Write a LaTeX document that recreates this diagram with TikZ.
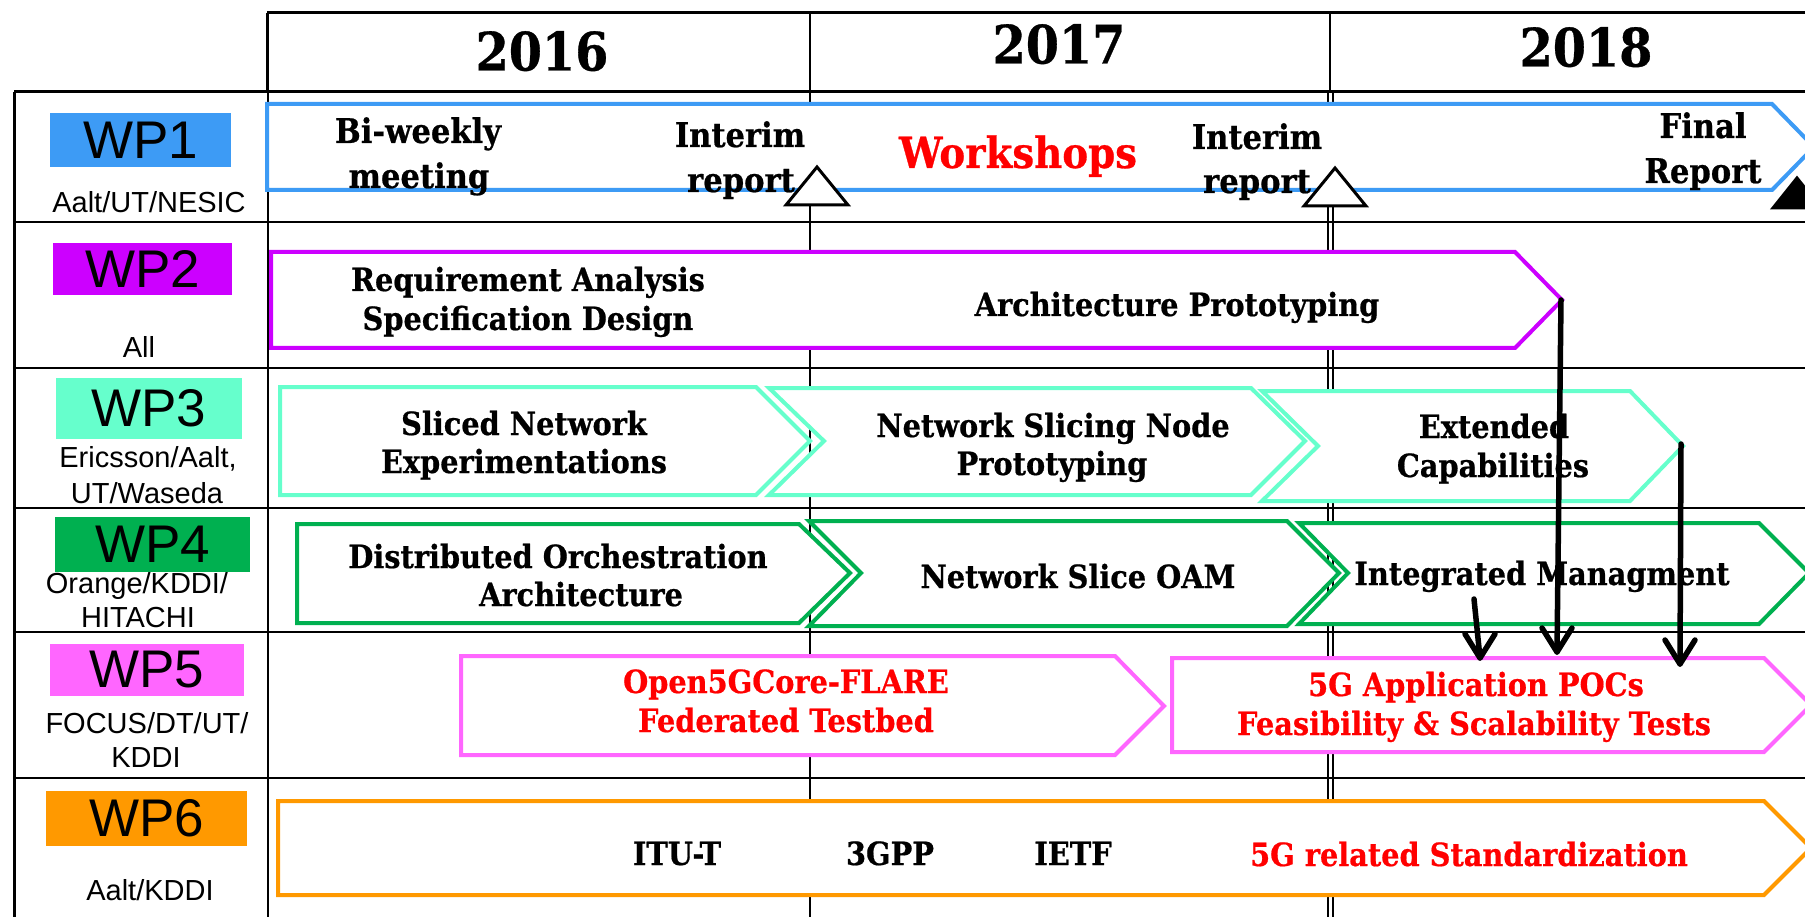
\documentclass[tikz,border=0pt]{standalone}
\usepackage{fontspec}
\setmainfont{DejaVu Serif}[FakeStretch=0.9, BoldFeatures={FakeBold=0.6}]
\newfontfamily\wpsans{Liberation Sans}
\usetikzlibrary{arrows.meta,calc}

\definecolor{wpblue}{RGB}{61,155,245}
\definecolor{wppurple}{RGB}{204,0,255}
\definecolor{wpaqua}{RGB}{102,255,204}
\definecolor{wpgreen}{RGB}{0,176,80}
\definecolor{wppink}{RGB}{255,102,255}
\definecolor{wporange}{RGB}{255,153,0}
\definecolor{wpred}{RGB}{255,0,0}

\begin{document}
\begin{tikzpicture}[x=1pt,y=-1pt,
  rule/.style={line width=3pt},
  thinrule/.style={line width=1.5pt},
  rowrule/.style={line width=2.5pt},
  bar/.style={line width=4pt, fill=white, line join=miter},
  year/.style={anchor=base, inner sep=0pt, font=\fontsize{53}{60}\selectfont\bfseries},
  task/.style={anchor=base, inner sep=0pt, font=\fontsize{32}{38}\selectfont\bfseries},
  bigtask/.style={anchor=base, inner sep=0pt, font=\fontsize{34}{40}\selectfont\bfseries},
  hot/.style={text=wpred},
  tag/.style={inner sep=0pt, font=\wpsans\fontsize{53}{53}\selectfont},
  who/.style={anchor=base, inner sep=0pt, font=\wpsans\fontsize{29}{34}\selectfont},
  flow/.style={line width=5.5pt, line cap=round, line join=round},
  milestone/.style={line width=3pt, line join=miter}]

\path[use as bounding box] (0,0) rectangle (1805,917);
\clip (0,0) rectangle (1805,917);

% ---- table grid ----
\draw[rule] (267,13) -- (1805,13);
\draw[rule] (267,13) -- (267,92);
\draw[rule] (14,92) -- (1805,92);
\draw[rule] (14,92) -- (14,917);
\draw[thinrule] (268,92) -- (268,917);
\draw[thinrule] (810,13) -- (810,917);
\draw[thinrule] (1330,13) -- (1330,92);
\draw[line width=1.2pt] (1328,92) -- (1328,917);
\draw[line width=1.2pt] (1333,92) -- (1333,917);
\foreach \yy in {222,368,508,632,778}
  \draw[rowrule] (14,\yy) -- (1805,\yy);

% ---- years ----
\node[year] (y2016) at (542,70.5) {2016};
\node[year] (y2017) at (1059,63.5) {2017};
\node[year] (y2018) at (1586,66.5) {2018};

% ---- work package tags ----
\node[tag, fill=wpblue,   minimum width=181pt, minimum height=54pt] (wp1) at (140.5,140) {WP1};
\node[tag, fill=wppurple, minimum width=179pt, minimum height=52pt] (wp2) at (142.5,269) {WP2};
\node[tag, fill=wpaqua,   minimum width=186pt, minimum height=61pt] (wp3) at (149,408.5) {WP3};
\node[tag, fill=wpgreen,  minimum width=195pt, minimum height=55pt] (wp4) at (152.5,544.5) {WP4};
\node[tag, fill=wppink,   minimum width=194pt, minimum height=52pt] (wp5) at (147,670) {WP5};
\node[tag, fill=wporange, minimum width=201pt, minimum height=55pt] (wp6) at (146.5,818.5) {WP6};

\node[who] (p1)  at (149,213) {Aalt/UT/NESIC};
\node[who] (p2)  at (139,357) {All};
\node[who] (p3a) at (148,467) {Ericsson/Aalt,};
\node[who] (p3b) at (147,503) {UT/Waseda};
\node[who] (p4a) at (137,593) {Orange/KDDI/};
\node[who] (p4b) at (138,627) {HITACHI};
\node[who] (p5a) at (147,733) {FOCUS/DT/UT/};
\node[who] (p5b) at (146,767) {KDDI};
\node[who] (p6)  at (150,900) {Aalt/KDDI};

% ---- task bars ----
\draw[bar, draw=wpblue]   (267,104) -- (1772,104) -- (1814,147) -- (1772,190) -- (267,190) -- cycle;
\draw[bar, draw=wppurple] (271,252) -- (1515,252) -- (1562,300) -- (1515,348) -- (271,348) -- cycle;
\coordinate (wp2tip) at (1561,300);

\draw[bar, draw=wpaqua] (280,387) -- (756,387) -- (810,441) -- (756,495) -- (280,495) -- cycle;
\draw[bar, draw=wpaqua] (769,388) -- (1251,388) -- (1305,441) -- (1251,495) -- (769,495) -- (824,441) -- cycle;
\draw[bar, draw=wpaqua] (1262,391) -- (1630,391) -- (1683,446) -- (1630,501) -- (1262,501) -- (1318,446) -- cycle;
\coordinate (wp3tip) at (1681,444);

\draw[bar, draw=wpgreen] (297,524) -- (799,524) -- (850,573) -- (799,623) -- (297,623) -- cycle;
\draw[bar, draw=wpgreen] (809,521) -- (1287,521) -- (1339,573) -- (1287,626) -- (809,626) -- (861,573) -- cycle;
\draw[bar, draw=wpgreen] (1299,523) -- (1759,523) -- (1809,573) -- (1759,624) -- (1299,624) -- (1348,573) -- cycle;
\coordinate (wp4src) at (1474,599);

\draw[bar, draw=wppink] (461,656) -- (1115,656) -- (1164,706) -- (1115,755) -- (461,755) -- cycle;
\draw[bar, draw=wppink] (1172,658) -- (1764,658) -- (1811,705) -- (1764,752) -- (1172,752) -- cycle;
\coordinate (pocA) at (1480,658);
\coordinate (pocB) at (1557,652);
\coordinate (pocC) at (1680,664);

\draw[bar, draw=wporange] (278,801) -- (1764,801) -- (1811,848) -- (1764,895) -- (278,895) -- cycle;

% ---- WP1 texts ----
\node[bigtask] (biw1) at (418,143) {Bi-weekly};
\node[bigtask] (biw2) at (419,188) {meeting};
\node[bigtask] (int1a) at (740,147) {Interim};
\node[bigtask] (int1b) at (741,192) {report};
\node[anchor=base, inner sep=0pt, font=\fontsize{43}{48}\selectfont\bfseries, hot] (ws) at (1018,168) {Workshops};
\node[bigtask] (int2a) at (1257,149) {Interim};
\node[bigtask] (int2b) at (1257,193) {report};
\node[bigtask] (fin1) at (1703,138) {Final};
\node[bigtask] (fin2) at (1703,183) {Report};

% milestones
\draw[milestone, fill=white] (817,167) -- (848,205) -- (786,205) -- cycle;
\draw[milestone, fill=white] (1335,168) -- (1366,206) -- (1304,206) -- cycle;
\draw[milestone, fill=black] (1797,178) -- (1821,208) -- (1773,208) -- cycle;

% ---- WP2 texts ----
\node[task] (req1) at (528,291) {Requirement Analysis};
\node[task] (req2) at (528,330) {Specification Design};
\node[task] (arch) at (1177,316) {Architecture Prototyping};

% ---- WP3 texts ----
\node[task] (sl1) at (524,435) {Sliced Network};
\node[task] (sl2) at (524,473) {Experimentations};
\node[task] (ns1) at (1053,437) {Network Slicing Node};
\node[task] (ns2) at (1052,475) {Prototyping};
\node[task] (ex1) at (1494,438) {Extended};
\node[task] (ex2) at (1493,477) {Capabilities};

% ---- WP4 texts ----
\node[task] (do1) at (558,568) {Distributed Orchestration};
\node[task] (do2) at (581,606) {Architecture};
\node[task] (oam) at (1078,588) {Network Slice OAM};
\node[task] (im)  at (1542,585) {Integrated Managment};

% ---- WP5 texts ----
\node[task, hot] (of1) at (786,693) {Open5GCore-FLARE};
\node[task, hot] (of2) at (786,732) {Federated Testbed};
\node[task, hot] (po1) at (1476,696) {5G Application POCs};
\node[task, hot] (po2) at (1474,735) {Feasibility \& Scalability Tests};

% ---- WP6 texts ----
\node[task] (itu)  at (677,865) {ITU-T};
\node[task] (gpp)  at (890,865) {3GPP};
\node[task] (ietf) at (1073,865) {IETF};
\node[task, hot] (std) at (1469,866) {5G related Standardization};

% ---- feeds into the application POCs (shaft plus open barb head) ----
\foreach \src/\dst in {wp4src/pocA, wp2tip/pocB, wp3tip/pocC} {
  \draw[flow] (\src) -- (\dst);
  \draw[flow] ($(\dst)+(-15,-24)$) -- (\dst) -- ($(\dst)+(15,-24)$);
}

\end{tikzpicture}
\end{document}
